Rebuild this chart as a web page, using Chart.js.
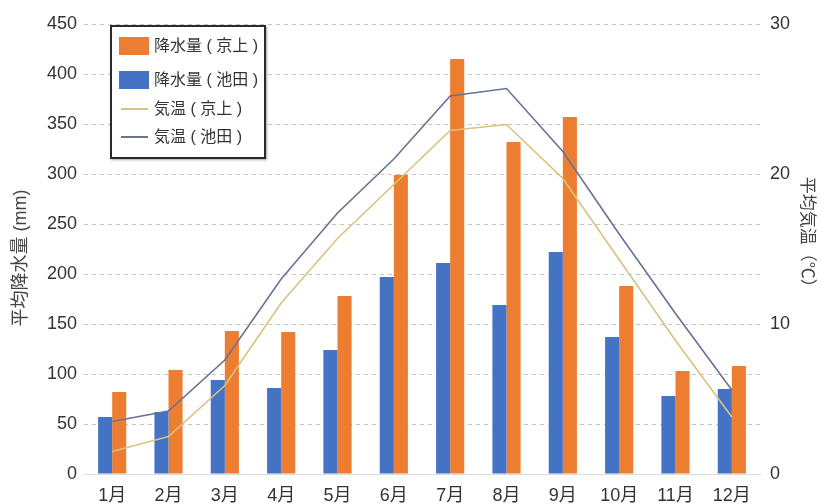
<!DOCTYPE html>
<html>
<head>
<meta charset="utf-8">
<script src="https://cdn.jsdelivr.net/npm/chart.js@4.4.0/dist/chart.umd.min.js"></script>
<style>
  body { margin: 0; background: #fff; }
  #wrap { position: relative; width: 822px; height: 504px; }
  #legend {
    position: absolute; left: 110px; top: 25px; width: 156px; height: 134px;
    box-sizing: border-box; border: 2px solid #2a2a2a; background: #fff;
    box-shadow: 1px 1px 2px rgba(0, 0, 0, 0.35);
    font-family: "Liberation Sans", "Noto Sans CJK JP", sans-serif; font-size: 16px; color: #333;
  }
  .row { position: absolute; left: 0; height: 20px; width: 100%; }
  .mark { position: absolute; left: 7px; }
  .txt { position: absolute; left: 42px; top: 0; line-height: 20px; white-space: nowrap; }
</style>
</head>
<body>
<div id="wrap">
  <canvas id="chart" width="822" height="504"></canvas>
  <div id="legend"></div>
</div>
<script>
const months = ["1月", "2月", "3月", "4月", "5月", "6月", "7月", "8月", "9月", "10月", "11月", "12月"];

// 平均降水量 (mm)
const rainKyogami = [82, 104, 143, 142, 178, 299, 415, 332, 357, 188, 103, 108];
const rainIkeda = [57, 62, 94, 86, 124, 197, 211, 169, 222, 137, 78, 85];

// 平均気温 (℃)
const tempKyogami = [1.5, 2.5, 5.9, 11.4, 15.7, 19.3, 22.9, 23.3, 19.7, 14.3, 8.9, 3.8];
const tempIkeda = [3.5, 4.2, 7.6, 13.0, 17.4, 21.0, 25.2, 25.7, 21.5, 16.0, 10.7, 5.6];

const rainTicks = { min: 0, max: 450, step: 50 };
const tempTicks = { min: 0, max: 30, step: 10 };

const FONT = "'Liberation Sans', 'Noto Sans CJK JP', sans-serif";
const ORANGE = "#ed7d31";
const BLUE = "#4472c4";
const KHAKI = "#d9c27f";
const SLATE = "#687294";

const datasets = [
  {
    type: "line",
    label: "気温 ( 池田 )",
    data: tempIkeda,
    yAxisID: "y1",
    borderColor: SLATE,
    backgroundColor: SLATE,
    borderWidth: 1.6,
    pointRadius: 0,
    tension: 0,
    order: 0
  },
  {
    type: "line",
    label: "気温 ( 京上 )",
    data: tempKyogami,
    yAxisID: "y1",
    borderColor: KHAKI,
    backgroundColor: KHAKI,
    borderWidth: 1.6,
    pointRadius: 0,
    tension: 0,
    order: 0
  },
  {
    type: "bar",
    label: "降水量 ( 池田 )",
    data: rainIkeda,
    yAxisID: "y",
    backgroundColor: BLUE,
    barPercentage: 1.0,
    categoryPercentage: 0.5,
    order: 1
  },
  {
    type: "bar",
    label: "降水量 ( 京上 )",
    data: rainKyogami,
    yAxisID: "y",
    backgroundColor: ORANGE,
    barPercentage: 1.0,
    categoryPercentage: 0.5,
    order: 1
  }
];

const chart = new Chart(document.getElementById("chart").getContext("2d"), {
  type: "bar",
  data: { labels: months, datasets: datasets },
  options: {
    responsive: false,
    animation: false,
    devicePixelRatio: 1,
    layout: { padding: { top: 24, left: 0, right: 0, bottom: 0 } },
    plugins: { legend: { display: false }, tooltip: { enabled: false } },
    scales: {
      x: {
        grid: { display: false },
        border: { display: true, color: "#d6dce4", width: 1 },
        ticks: { color: "#333", padding: 3, font: { family: FONT, size: 18 } },
        afterFit: (scale) => { scale.height = 30; }
      },
      y: {
        position: "left",
        min: rainTicks.min,
        max: rainTicks.max,
        ticks: { stepSize: rainTicks.step, color: "#333", padding: 7, font: { family: FONT, size: 18 } },
        grid: { color: "#c4c4c4", lineWidth: 1, drawTicks: false },
        border: { display: false, dash: [4, 4] },
        title: {
          display: true,
          // trailing ideographic space nudges the centred title down a little
          text: "平均降水量 (mm)\u3000",
          color: "#444",
          padding: { top: 10, bottom: 0 },
          font: { family: FONT, size: 18 }
        },
        afterFit: (scale) => { scale.width = 84; }
      },
      y1: {
        position: "right",
        min: tempTicks.min,
        max: tempTicks.max,
        ticks: { stepSize: tempTicks.step, color: "#333", padding: 10, font: { family: FONT, size: 18 } },
        grid: { display: false, drawTicks: false },
        border: { display: false },
        title: {
          display: true,
          // trailing spaces move it up, as in the reference
          text: "平均気温（℃）\u3000\u3000",
          color: "#444",
          padding: { top: 5, bottom: 0 },
          font: { family: FONT, size: 17 }
        },
        afterFit: (scale) => { scale.width = 62; }
      }
    }
  }
});

// legend box drawn as html, built from the chart's datasets
const legendOrder = ["降水量 ( 京上 )", "降水量 ( 池田 )", "気温 ( 京上 )", "気温 ( 池田 )"];
const rowCenters = [19, 53, 82, 110];
const legendEl = document.getElementById("legend");
legendOrder.forEach((name, i) => {
  const ds = chart.data.datasets.find((d) => d.label === name);
  const row = document.createElement("div");
  row.className = "row";
  row.style.top = (rowCenters[i] - 10) + "px";
  const mark = document.createElement("div");
  mark.className = "mark";
  if (ds.type === "bar") {
    mark.style.cssText = "left:7px;top:1px;width:30px;height:18px;background:" + ds.backgroundColor;
  } else {
    mark.style.cssText = "left:9px;top:9px;width:27px;height:2px;background:" + ds.borderColor;
  }
  const txt = document.createElement("div");
  txt.className = "txt";
  txt.textContent = name;
  row.appendChild(mark);
  row.appendChild(txt);
  legendEl.appendChild(row);
});
</script>
</body>
</html>
